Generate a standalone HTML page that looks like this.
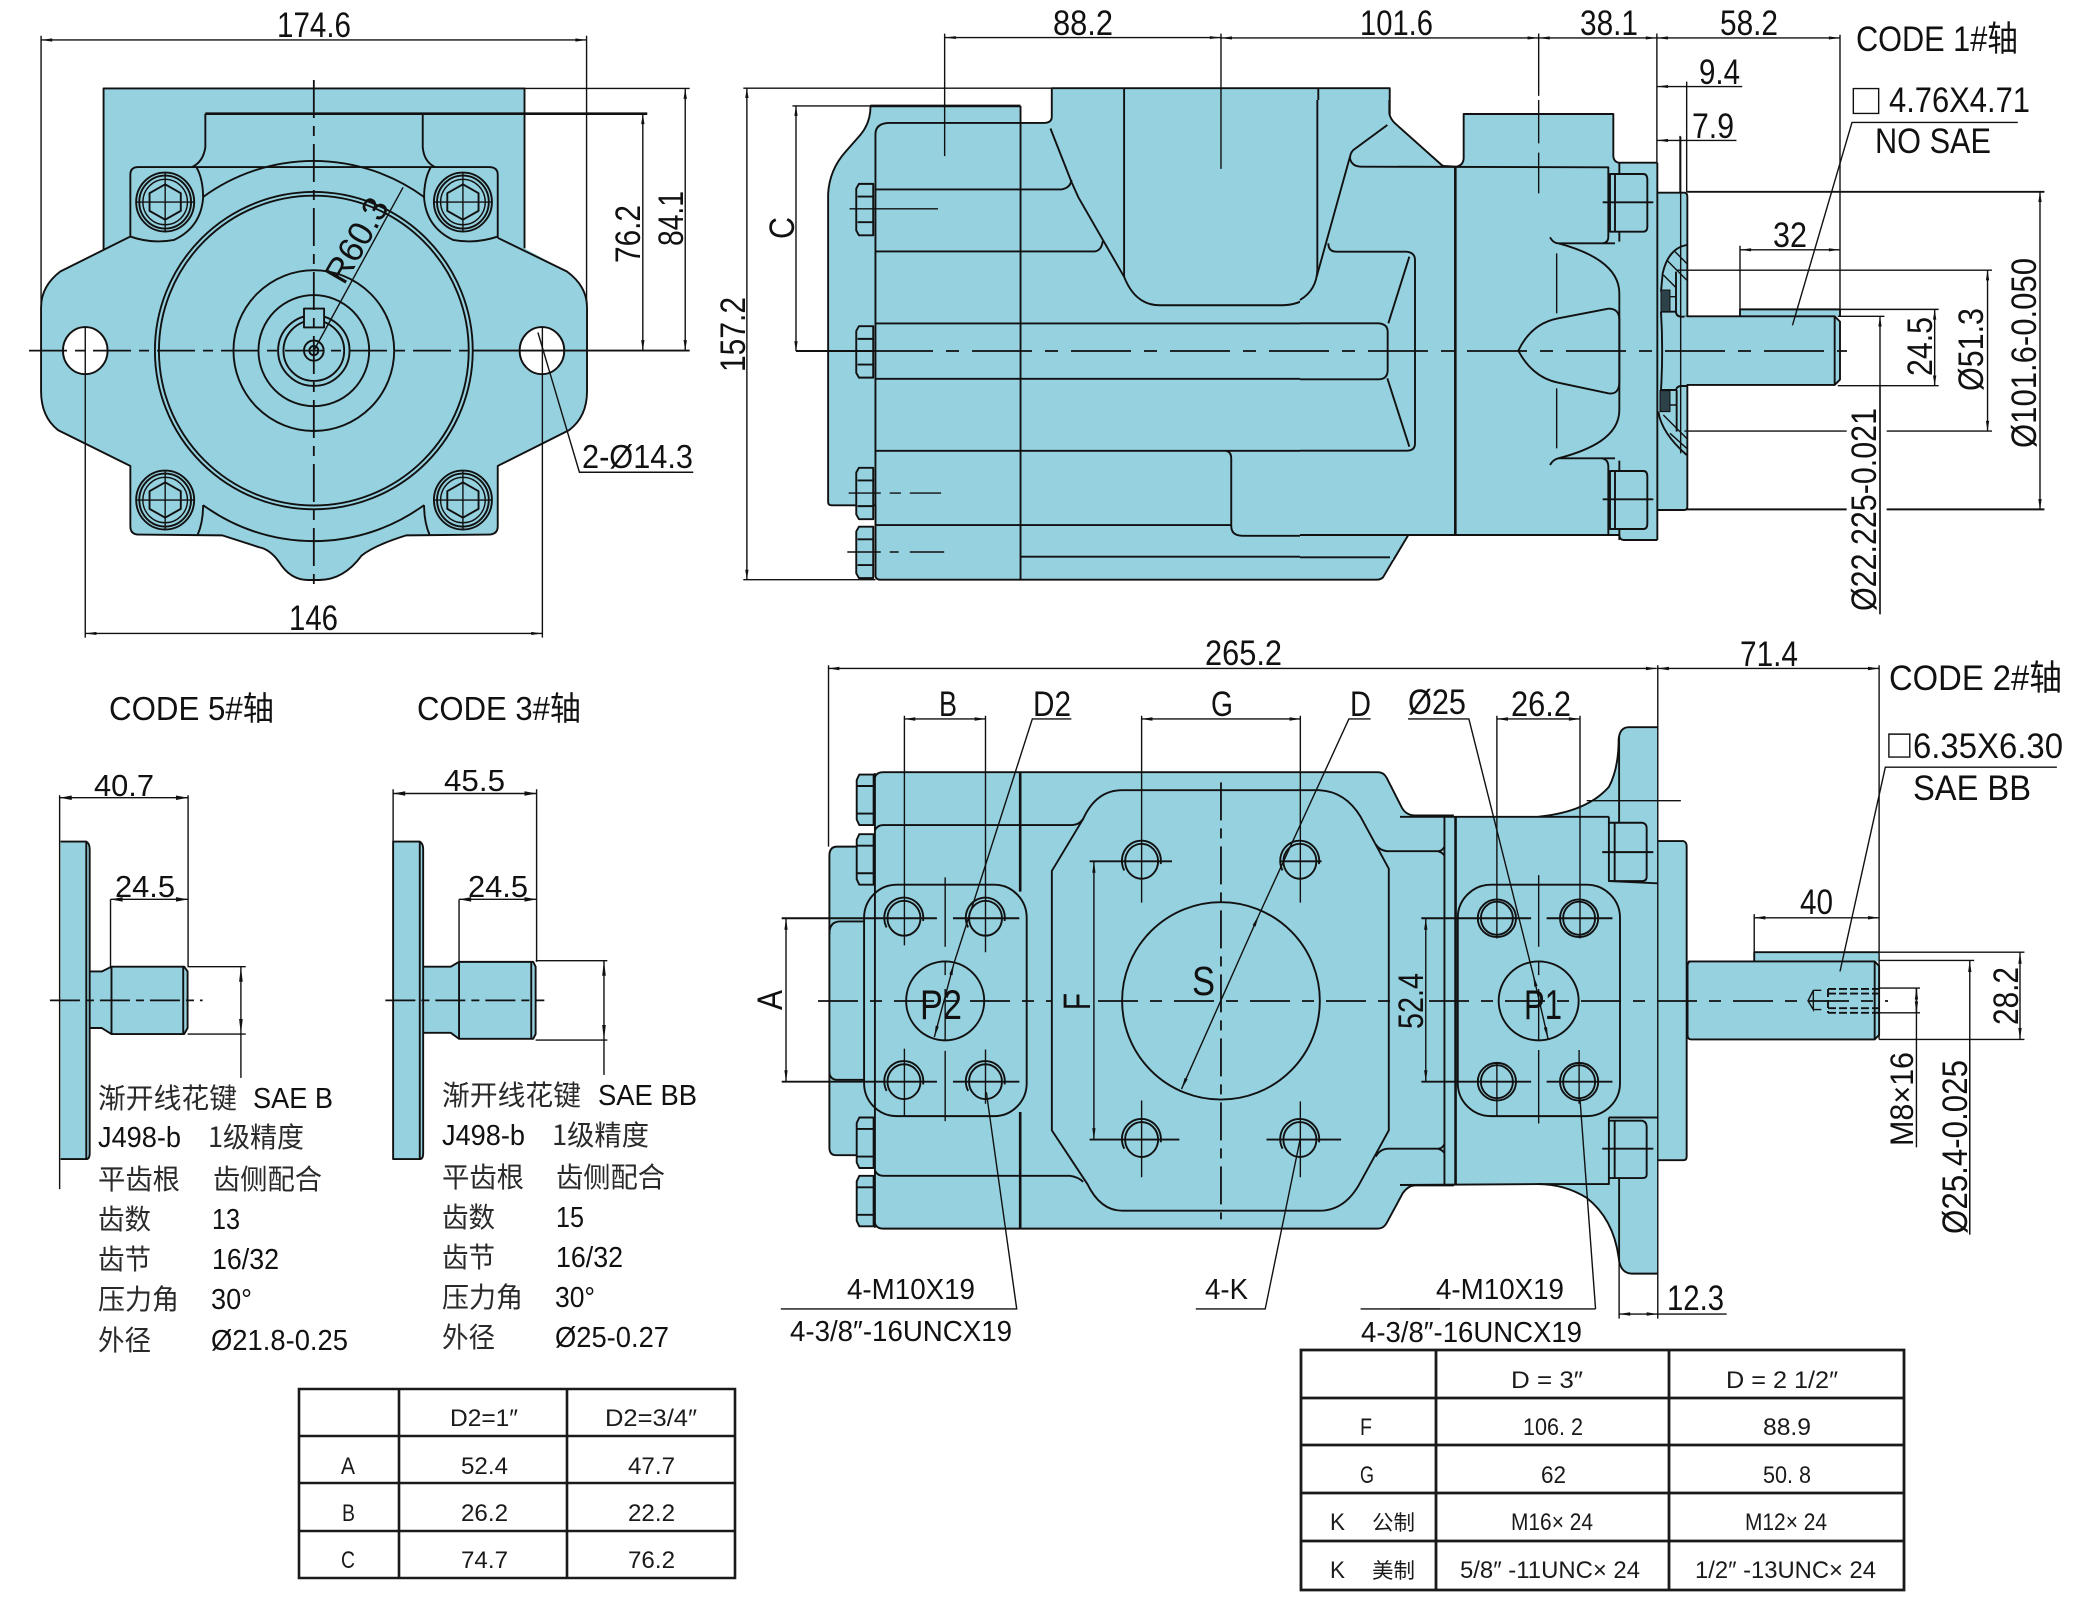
<!DOCTYPE html>
<html><head><meta charset="utf-8"><title>Pump diagram</title>
<style>
html,body{margin:0;padding:0;background:#fff;width:2097px;height:1603px;overflow:hidden}
svg{display:block}
path,line,ellipse,rect,polygon{vector-effect:non-scaling-stroke}
.f{fill:#96d1df;stroke:none}
.l{fill:none;stroke:#111;stroke-width:1.9;stroke-linejoin:round}
.h{fill:none;stroke:#111;stroke-width:2.6}
.n{fill:none;stroke:#111;stroke-width:1.4}
.d{fill:none;stroke:#111;stroke-width:1.4;marker-start:url(#a);marker-end:url(#a)}
.e{fill:none;stroke:#111;stroke-width:1.4;marker-end:url(#a)}
.c{fill:none;stroke:#111;stroke-width:1.8;stroke-dasharray:38,8,10,8}
.w{fill:#fff;stroke:#111;stroke-width:1.9}
text{font-family:"Liberation Sans","Noto Sans CJK SC",sans-serif;fill:#111;font-size:35px}
.s{font-size:29px}
.z{font-family:"Noto Sans CJK SC","Liberation Sans",sans-serif;font-size:28px;font-weight:400;fill:#2a2a2a}
.t{font-size:24px;fill:#1a1a1a}
.tz{font-family:"Noto Sans CJK SC","Liberation Sans",sans-serif;font-size:21px;fill:#1a1a1a}
</style></head><body>
<svg xmlns="http://www.w3.org/2000/svg" width="2097" height="1603" viewBox="0 0 2097 1603">
<defs>
<marker id="a" viewBox="0 0 10 4" refX="10" refY="2" markerWidth="26" markerHeight="10" orient="auto-start-reverse" markerUnits="userSpaceOnUse"><path d="M10,2 L0,.5 L0,3.5Z" fill="#111"/></marker>
<g id="bolt">
<ellipse class="l" rx="65" ry="70"/><ellipse class="l" rx="58" ry="63"/><ellipse class="n" rx="50" ry="54"/>
<path class="l" d="M0,-42 L35,-21 L35,21 L0,42 L-35,21 L-35,-21Z"/>
<path class="n" d="M-65,0 L65,0 M0,-70 L0,70"/>
</g>
<g id="hd2">
<path class="f" d="M356,0 L388,0 L388,130 L356,130 L350,118 L350,12Z"/>
<path class="l" d="M356,0 L388,0 L388,130 L356,130 L350,118 L350,12Z M353,32 L388,32 M353,97 L388,97"/>
</g>
<g id="hd5">
<path class="f" d="M229,0 L262,0 L262,110 L229,110 L223,98 L223,12Z"/>
<path class="l" d="M229,0 L262,0 L262,110 L229,110 L223,98 L223,12Z M225,25 L262,25 M225,85 L262,85"/>
</g>
<g id="port"><ellipse class="l" rx="38" ry="38"/><path class="l" d="M-40,20 A45,44 0 1 1 44,6"/></g>
<g id="port2"><ellipse class="l" rx="36" ry="36"/><ellipse class="l" rx="43" ry="41"/></g>
</defs>

<!-- VIEW 1 -->
<g transform="scale(.4464,.4209)">
<path class="f" d="M232,210 L1175,210 L1175,590 L1270,645 Q1315,680 1315,730 L1315,930 Q1315,990 1275,1022 L1115,1107 L1115,1250 Q1115,1270 1095,1270 L910,1272 Q840,1295 810,1320 Q770,1378 715,1378 L690,1378 Q650,1378 625,1335 Q605,1305 580,1300 L498,1272 L310,1270 Q292,1270 292,1250 L292,1107 L130,1022 Q92,990 92,930 L92,730 Q92,680 135,645 L232,595 Z"/>
<path class="l" d="M232,595 L232,210 L1175,210 L1175,590 M1115,565 L1270,645 Q1315,680 1315,730 L1315,930 Q1315,990 1275,1022 L1115,1107 L1115,1250 Q1115,1270 1095,1270 L910,1272 Q840,1295 810,1320 Q770,1378 715,1378 L690,1378 Q650,1378 625,1335 Q605,1305 580,1300 L498,1272 L310,1270 Q292,1270 292,1250 L292,1107 L130,1022 Q92,990 92,930 L92,730 Q92,680 135,645 L292,562"/>
<path class="h" d="M460,270 L1450,270"/>
<path class="l" d="M460,270 L460,350 Q455,385 430,397 M947,270 L947,350 Q950,385 975,397"/>
<path class="l" d="M292,562 L292,415 Q292,397 310,397 L1095,397 Q1115,397 1115,415 L1115,565"/>
<path class="l" d="M292,562 Q340,580 390,570 Q450,540 455,470 Q455,425 440,397 M1115,562 Q1065,580 1015,570 Q955,540 950,470 Q950,425 965,397"/>
<path class="l" d="M455,468 A420,446 0 0 1 950,468 M455,1200 A420,446 0 0 0 950,1200"/>
<path class="l" d="M455,1200 Q455,1240 443,1270 M950,1200 Q950,1240 962,1270"/>
<ellipse class="l" cx="703" cy="833" rx="356" ry="377"/>
<ellipse class="l" cx="703" cy="833" rx="347" ry="368"/>
<ellipse class="l" cx="703" cy="833" rx="180" ry="191"/>
<ellipse class="l" cx="703" cy="833" rx="124" ry="132"/>
<ellipse class="l" cx="703" cy="833" rx="80" ry="84"/>
<ellipse class="l" cx="703" cy="833" rx="68" ry="72"/>
<ellipse class="l" cx="703" cy="833" rx="22" ry="24"/>
<ellipse class="l" cx="703" cy="833" rx="10" ry="11"/>
<rect class="f" x="681" y="733" width="45" height="45"/><rect class="l" x="681" y="733" width="45" height="45"/>
<use href="#bolt" x="370" y="480"/><use href="#bolt" x="1037" y="480"/><use href="#bolt" x="370" y="1188"/><use href="#bolt" x="1037" y="1188"/>
<ellipse class="w" cx="191" cy="833" rx="50" ry="56"/>
<ellipse class="w" cx="1214" cy="833" rx="50" ry="56"/>
<path class="c" d="M65,833 L1060,833"/><path class="l" d="M1060,833 L1545,833"/>
<path class="c" d="M703,190 L703,1405"/>
<path class="n" d="M92,85 L92,720 M1314,85 L1314,720 M1175,210 L1545,210 M191,775 L191,1515 M1215,775 L1215,1515"/>
<path class="d" d="M92,95 L1314,95"/>
<path class="d" d="M1440,270 L1440,833"/>
<path class="d" d="M1535,210 L1535,833"/>
<path class="d" d="M191,1505 L1215,1505"/>
<path class="n" d="M1205,790 L1298,1122 L1553,1122"/>
<path class="n" d="M703,833 L903,445"/>
</g>
<text x="277" y="37" textLength="74" lengthAdjust="spacingAndGlyphs">174.6</text>
<text transform="translate(640,263) rotate(-90)" textLength="58" lengthAdjust="spacingAndGlyphs">76.2</text>
<text transform="translate(683,246) rotate(-90)" textLength="55" lengthAdjust="spacingAndGlyphs">84.1</text>
<text x="289" y="630" textLength="49" lengthAdjust="spacingAndGlyphs">146</text>
<text x="582" y="468" textLength="111" lengthAdjust="spacingAndGlyphs" class="s" style="font-size:33px">2-Ø14.3</text>
<text transform="translate(344,286) rotate(-60)" textLength="92" lengthAdjust="spacingAndGlyphs">R60.3</text>

<!-- VIEW 2 left -->
<g transform="translate(700,0) scale(.44643,.39541)">
<path class="f" d="M382,268 L718,268 L718,311 L770,311 Q788,311 788,295 L788,223 L1545,223 L1545,290 L1545,1353 L1586,1353 L1530,1460 Q1525,1466 1515,1466 L405,1466 Q393,1466 393,1455 L393,1278 L295,1278 Q287,1278 287,1270 L287,490 Q290,430 325,385 L360,340 Q382,310 382,268Z"/>
<path class="l" d="M1586,1353 L1530,1460 Q1525,1466 1515,1466 L405,1466 Q393,1466 393,1455 L393,1278 L295,1278 Q287,1278 287,1270 L287,490 Q290,430 325,385 L360,340 Q382,310 382,268 L718,268 M718,311 L770,311 Q788,311 788,295 L788,223 L1545,223 L1545,290"/>
<path class="h" d="M382,268 L718,268"/>
<path class="l" d="M393,1455 L393,340 Q393,311 425,311 L718,311 M718,268 L718,1466"/>
<path class="l" d="M393,479 L810,479 Q830,475 832,455 M393,636 L885,636 Q900,632 902,610"/>
<path class="l" d="M785,325 L832,460 L848,500 L950,700 Q975,772 1030,772 L1305,772 Q1375,770 1385,695"/>
<path class="l" d="M950,223 L950,700 M1385,223 L1385,700"/>
<path class="l" d="M393,818 L1344,818 M393,958 L1344,958"/>
<path class="l" d="M393,1140 L1344,1140 M1175,1140 Q1190,1140 1190,1160 L1190,1330 Q1190,1355 1215,1355 L1344,1355 M393,1328 L1190,1328 M718,1408 L1344,1408"/>
<use href="#hd2" y="465"/><use href="#hd2" y="825"/><use href="#hd2" y="1183"/><use href="#hd2" y="1332"/>
<path class="n" d="M335,528 L533,528 M333,1247 L405,1247 M425,1247 L450,1247 M470,1247 L540,1247 M330,1396 L405,1396 M425,1396 L445,1396 M470,1396 L547,1396"/>
<path class="n" d="M548,85 L548,395 M1167,85 L1167,427 M97,223 L788,223 M97,1466 L393,1466 M207,268 L382,268"/>
<path class="d" d="M105,223 L105,1466"/>
<path class="d" d="M215,268 L215,888"/>
<path class="d" d="M548,95 L1167,95"/>
</g>
<!-- VIEW 2 middle -->
<g transform="translate(1300,100) scale(.33333)">
<path class="f" d="M0,0 L268,0 L268,40 Q270,55 285,70 L425,195 L430,198 L470,200 Q490,195 491,175 L491,42 L940,42 L940,170 Q942,185 955,188 L1072,188 L1072,278 L1155,278 Q1162,280 1162,290 L1162,1220 Q1162,1228 1155,1230 L1072,1230 L1072,1320 L970,1320 Q958,1318 958,1305 L325,1305 L280,1380 L0,1380Z"/>
<path class="l" d="M268,0 L268,40 Q270,55 285,70 L425,195 L430,198 L470,200 Q490,195 491,175 L491,42 L940,42 L940,170 Q942,185 955,188 L1072,188 M1072,278 L1155,278 Q1162,280 1162,290 L1162,1220 Q1162,1228 1155,1230 L1072,1230 M1072,1320 L970,1320 Q958,1318 958,1305 L0,1305 M340,1305 L325,1305 L280,1380 M0,1372 L270,1372"/>
<path class="l" d="M1072,188 L1072,1320"/>
<path class="l" d="M52,0 L52,510 Q50,570 0,600"/>
<path class="l" d="M262,75 L160,150 Q150,160 150,175 Q155,200 185,200 L925,202 L925,410 Q925,430 905,430 L775,430 Q760,430 750,412 M775,430 L945,430"/>
<path class="l" d="M150,170 L50,530 M85,430 Q85,455 110,455 L320,455 Q345,458 345,480 L345,1030 Q345,1052 320,1052 L0,1052"/>
<path class="l" d="M328,470 L265,670 M262,835 L328,1040"/>
<path class="l" d="M0,670 L235,670 Q263,672 263,695 L263,810 Q263,838 235,838 L0,838"/>
<path class="h" d="M466,200 L466,1305"/>
<path class="l" d="M775,430 C870,455 958,500 958,580 L958,930 C958,1010 870,1050 775,1075"/>
<path class="l" d="M750,1095 Q760,1078 775,1075 L945,1075 M905,1075 Q925,1078 925,1100 L925,1305"/>
<path class="l" d="M655,752 C680,700 720,665 775,655 L925,626 Q958,625 958,660 L958,845 Q958,885 925,880 L775,848 C720,838 680,800 655,752Z"/>
<path class="n" d="M770,460 L770,640 M770,865 L770,1045"/>
<path class="l" d="M930,222 L1030,222 Q1042,222 1042,240 L1042,380 Q1042,395 1030,395 L930,395 Z M945,222 L945,395 M958,188 L958,222 M958,395 L958,425"/>
<path class="l" d="M930,1113 L1030,1113 Q1042,1113 1042,1130 L1042,1270 Q1042,1287 1030,1287 L930,1287 Z M945,1113 L945,1287 M958,1082 L958,1113 M958,1287 L958,1320"/>
<path class="l" d="M908,307 L1060,307 M908,1198 L1060,1198"/>
<path class="l" d="M1160,435 Q1105,445 1088,520 L1083,575 M1083,635 L1128,635 Q1128,650 1145,650 L1162,650 M1083,635 Q1090,750 1083,870 L1128,870 Q1130,858 1145,858 L1162,858 M1128,515 L1128,635 M1130,870 L1130,995 M1075,935 Q1085,1000 1160,1065"/>
<rect x="1083" y="570" width="27" height="65" fill="#2c4148" stroke="#111"/>
<rect x="1080" y="872" width="30" height="63" fill="#2c4148" stroke="#111"/>
<path class="n" d="M1110,590 L1128,590 M1110,915 L1130,915 M1125,455 L1160,490 M1100,480 L1160,540 M1090,525 L1128,563 M1090,945 L1160,1015 M1110,1000 L1160,1045 M1142,110 L1142,1060"/>
<path class="n" d="M716,0 L716,130 M716,158 L716,280"/>
</g>
<!-- VIEW 2 right -->
<g transform="translate(1400,0) scale(.44444,.40816)">
<path class="f" d="M765,775 L765,758 L990,758 L990,775Z"/>
<path class="f" d="M640,775 L978,775 L990,788 L990,930 L978,943 L640,943Z"/>
<path class="l" d="M645,775 L978,775 L990,788 L990,930 L978,943 L645,943 M978,775 L978,943 M765,775 L765,758 L990,758 L990,775"/>
<path class="n" d="M312,82 L312,235 M578,82 L578,400 M990,85 L990,775 M645,200 L645,470 M630,333 L630,470 M765,602 L765,758"/>
<path class="l" d="M645,470 L1450,470 M645,1248 L1005,1248 M1095,1248 L1450,1248"/>
<path class="n" d="M622,662 L1332,662 M640,1056 L1005,1056 M1095,1056 L1332,1056 M990,758 L1212,758 M985,945 L1212,945 M985,775 L1090,775"/>
<path class="d" d="M1440,470 L1440,1248"/>
<path class="d" d="M1322,662 L1322,1056"/>
<path class="d" d="M1203,758 L1203,945"/>
<path class="e" d="M1080,1505 L1080,775"/>
<path class="n" d="M1080,1505 L1080,945"/>
<path class="d" d="M312,93 L578,93"/>
<path class="d" d="M578,93 L990,93"/>
<path class="d" d="M-403,93 L312,93"/>
<path class="d" d="M765,612 L990,612"/>
<path class="e" d="M645,212 L578,212"/><path class="n" d="M645,212 L770,212"/>
<path class="e" d="M630,344 L578,344"/><path class="n" d="M630,344 L757,344"/>
<path class="n" d="M1390,300 L1017,300 L883,797"/>
<rect class="n" x="1020" y="217" width="57" height="61"/>
</g>
<path class="c" style="stroke-dasharray:60,13,13,13" d="M873,351 L1847,351"/>
<path class="l" d="M796,351 L873,351"/>
<text x="1053" y="35" textLength="60" lengthAdjust="spacingAndGlyphs">88.2</text>
<text x="1360" y="35" textLength="73" lengthAdjust="spacingAndGlyphs">101.6</text>
<text x="1580" y="35" textLength="58" lengthAdjust="spacingAndGlyphs">38.1</text>
<text x="1720" y="35" textLength="58" lengthAdjust="spacingAndGlyphs">58.2</text>
<text x="1699" y="84" textLength="41" lengthAdjust="spacingAndGlyphs">9.4</text>
<text x="1692" y="138" textLength="42" lengthAdjust="spacingAndGlyphs">7.9</text>
<text x="1856" y="51" textLength="162" lengthAdjust="spacingAndGlyphs">CODE 1#轴</text>
<text x="1889" y="112" textLength="141" lengthAdjust="spacingAndGlyphs">4.76X4.71</text>
<text x="1875" y="153" textLength="116" lengthAdjust="spacingAndGlyphs">NO SAE</text>
<text x="1773" y="247" textLength="34" lengthAdjust="spacingAndGlyphs">32</text>
<text transform="translate(1932,376) rotate(-90)" textLength="59" lengthAdjust="spacingAndGlyphs">24.5</text>
<text transform="translate(1983,391) rotate(-90)" textLength="83" lengthAdjust="spacingAndGlyphs">Ø51.3</text>
<text transform="translate(2036,448) rotate(-90)" textLength="190" lengthAdjust="spacingAndGlyphs">Ø101.6-0.050</text>
<text transform="translate(1876,611) rotate(-90)" textLength="203" lengthAdjust="spacingAndGlyphs">Ø22.225-0.021</text>
<text transform="translate(794,239) rotate(-90)" textLength="22" lengthAdjust="spacingAndGlyphs">C</text>
<text transform="translate(745,372) rotate(-90)" textLength="75" lengthAdjust="spacingAndGlyphs">157.2</text>

<!-- VIEW 3 left -->
<g transform="translate(760,640) scale(.43365,.45914)">
<path class="f" d="M160,470 Q160,450 178,450 L265,450 L265,300 Q268,288 285,288 L1425,288 Q1438,288 1445,300 L1480,365 Q1490,382 1510,382 L1600,382 L1600,1188 L1510,1188 Q1495,1188 1482,1205 L1445,1270 Q1438,1282 1425,1282 L285,1282 Q268,1282 265,1270 L265,1122 L175,1122 Q160,1122 160,1105 Z"/>
<path class="l" d="M225,450 L178,450 Q160,450 160,470 L160,1105 Q160,1122 175,1122 L225,1122 M265,300 Q268,288 285,288 L1425,288 Q1438,288 1445,300 L1480,365 Q1490,382 1510,382 L1600,382 M1600,1188 L1510,1188 Q1495,1188 1482,1205 L1445,1270 Q1438,1282 1425,1282 L285,1282 Q268,1282 265,1270 M265,290 L265,1280"/>
<path class="h" d="M600,288 L600,548 M600,1028 L600,1282"/>
<path class="l" d="M265,415 Q270,403 285,403 L720,403 Q735,403 745,390 M265,1155 Q270,1167 285,1167 L715,1167 Q735,1170 745,1180"/>
<path class="l" d="M160,640 Q160,613 185,613 L240,613 M160,940 Q160,958 180,958 L240,958"/>
<path class="l" d="M315,533 L540,533 A75,72 0 0 1 615,605 L615,965 A75,72 0 0 1 540,1037 L315,1037 A75,72 0 0 1 240,965 L240,605 A75,72 0 0 1 315,533Z"/>
<path class="l" d="M835,327 L1290,327 Q1350,330 1385,385 L1450,498 L1450,1068 L1385,1180 Q1350,1243 1290,1243 L835,1243 Q785,1243 755,1185 L673,1068 L673,503 L745,390 Q775,327 835,327Z"/>
<path class="l" d="M1420,445 Q1430,460 1450,460 L1600,460 M1420,1125 Q1430,1108 1450,1108 L1600,1108"/>
<ellipse class="l" cx="1063" cy="786" rx="228" ry="215"/>
<ellipse class="l" cx="427" cy="786" rx="90" ry="86"/>
<use href="#hd5" y="293"/><use href="#hd5" y="423"/><use href="#hd5" y="1040"/><use href="#hd5" y="1167"/>
<use href="#port" x="332" y="606"/><use href="#port" x="520" y="606"/><use href="#port" x="332" y="962"/><use href="#port" x="520" y="962"/>
<use href="#port" x="880" y="482"/><use href="#port" x="1245" y="482"/><use href="#port" x="880" y="1088"/><use href="#port" x="1245" y="1088"/>
<path class="n" d="M333,165 L333,665 M520,165 L520,680 M333,890 L333,1037 M520,892 L520,1010"/>
<path class="l" d="M50,606 L408,606 M445,606 L598,606 M50,962 L408,962 M445,962 L598,962"/>
<path class="n" d="M427,517 L427,668 M427,700 L427,730 M427,760 L427,870 M427,895 L427,1048"/>
<path class="n" d="M880,165 L880,572 M1246,165 L1246,572 M880,1003 L880,1170 M1246,1005 L1246,1170"/>
<path class="l" d="M760,482 L950,482 M1200,482 L1295,482 M760,1088 L967,1088 M1168,1088 L1340,1088"/>
<path class="c" d="M1063,310 L1063,1262"/>
<path class="n" d="M158,55 L158,450"/>
<path class="d" d="M158,62 L2068,62"/>
<path class="d" d="M770,482 L770,1088"/>
<path class="d" d="M60,606 L60,962"/>
<path class="d" d="M333,172 L520,172"/>
<path class="d" d="M880,172 L1246,172"/>
<path class="n" d="M718,172 L628,172 L447,705"/>
<path class="d" d="M447,705 L402,865"/>
<path class="n" d="M1408,172 L1358,172 L1150,600"/>
<path class="d" d="M1150,600 L972,978"/>
<path class="n" d="M48,1457 L592,1457 L522,985"/>
<path class="n" d="M1005,1457 L1165,1457 L1245,1090"/>
<path class="n" d="M1385,1457 L1568,1457"/>
</g>
<!-- VIEW 3 right -->
<g transform="translate(1400,640) scale(.44444,.45914)">
<path class="f" d="M0,385 L310,385 Q420,375 470,320 Q492,280 492,215 Q495,190 515,190 L580,190 L580,438 L638,438 Q645,440 645,450 L645,1125 Q645,1133 638,1133 L580,1133 L580,1380 L520,1380 Q495,1378 492,1345 Q480,1260 420,1215 Q370,1185 310,1185 L0,1187 Z"/>
<path class="f" d="M797,680 L1078,680 L1078,700 L797,700Z"/>
<path class="f" d="M650,700 L1068,700 L1078,710 L1078,860 L1068,870 L655,870 Q647,870 647,860 L647,710 Q647,700 655,700Z"/>
<path class="l" d="M0,385 L470,385 M310,385 Q420,375 470,320 Q492,280 492,215 Q495,190 515,190 L580,190 M580,438 L638,438 Q645,440 645,450 L645,1125 Q645,1133 638,1133 L580,1133 M580,1380 L520,1380 Q495,1378 492,1345 Q480,1260 420,1215 Q370,1185 310,1185 L0,1187"/>
<path class="l" d="M650,700 L1068,700 L1078,710 L1078,860 L1068,870 L655,870 Q647,870 647,860 L647,710 Q647,700 655,700Z M1068,700 L1068,870 M797,700 L797,680 L1078,680"/>
<path class="l" d="M100,385 L100,1187"/>
<path class="h" d="M125,385 L125,1187"/>
<path class="l" d="M0,460 L85,460 Q95,460 100,450 M85,460 Q95,462 100,470 M0,1108 L85,1108 Q95,1108 100,1098 M85,1108 Q95,1110 100,1118"/>
<path class="l" d="M470,385 L470,525 L580,530 M470,1040 L580,1040 M470,1040 L470,1185 L310,1185"/>
<path class="l" d="M470,398 L545,398 Q555,400 555,410 L555,515 Q555,525 545,525 L470,525 M483,398 L483,525 M493,210 L493,398 M470,1047 L545,1047 Q555,1050 555,1060 L555,1165 Q555,1172 545,1172 L470,1172 M483,1047 L483,1172 M493,1172 L493,1350"/>
<path class="l" d="M455,462 L570,462 M455,1108 L570,1108"/>
<path class="l" d="M205,533 L420,533 A75,72 0 0 1 495,605 L495,965 A75,72 0 0 1 420,1037 L205,1037 A75,72 0 0 1 130,965 L130,605 A75,72 0 0 1 205,533Z"/>
<ellipse class="l" cx="312" cy="786" rx="90" ry="86"/>
<use href="#port2" x="218" y="606"/><use href="#port2" x="403" y="606"/><use href="#port2" x="218" y="962"/><use href="#port2" x="403" y="962"/>
<path class="n" d="M218,165 L218,650 M405,165 L405,650 M218,920 L218,1037 M403,893 L403,1010"/>
<path class="l" d="M48,606 L295,606 M330,606 L478,606 M48,962 L295,962 M330,962 L478,962"/>
<path class="n" d="M312,512 L312,668 M312,700 L312,730 M312,760 L312,870 M312,893 L312,1053"/>
<path class="n" d="M420,350 L632,350 M580,55 L580,1478 M493,1350 L493,1478 M1078,55 L1078,870 M797,597 L797,680"/>
<path class="d" d="M580,62 L1078,62"/>
<path class="d" d="M218,172 L405,172"/>
<path class="d" d="M58,606 L58,962"/>
<path class="d" d="M797,605 L1078,605"/>
<path class="d" d="M493,1468 L580,1468"/>
<path class="n" d="M580,1468 L735,1468"/>
<path class="n" d="M18,172 L155,172 L300,730"/>
<path class="d" d="M300,730 L333,868"/>
<path class="n" d="M440,1457 L0,1457 M440,1457 L405,1000"/>
<path class="n" d="M1478,277 L1092,277 L990,722"/>
<rect class="n" x="1100" y="205" width="47" height="50"/>
<path class="n" d="M1078,680 L1405,680 M1078,870 L1405,870 M1078,698 L1292,698 M1078,758 L1170,758 M1078,812 L1170,812"/>
<path class="d" d="M1395,680 L1395,870"/>
<path class="e" d="M1282,1295 L1282,698"/>
<path class="n" d="M1282,1295 L1282,870"/>
<path class="n" d="M1162,758 L1162,1105"/>
<path class="d" d="M1162,758 L1162,812"/>
<path class="n" d="M930,763 L918,786 L930,805 Z M930,763 L948,763 M930,805 L948,805"/>
<path class="l" style="stroke-dasharray:8,3" d="M963,760 L1078,760 M963,770 L1078,770 M963,802 L1078,802 M963,812 L1078,812 M963,760 L963,812"/>
</g>
<path class="c" style="stroke-dasharray:40,12,12,12" d="M818,1001 L1052,1001 M1098,1001 L1395,1001 M1429,1001 L1888,1001"/>
<text x="1205" y="665" textLength="77" lengthAdjust="spacingAndGlyphs">265.2</text>
<text x="1740" y="666" textLength="58" lengthAdjust="spacingAndGlyphs">71.4</text>
<text x="1889" y="690" textLength="173" lengthAdjust="spacingAndGlyphs">CODE 2#轴</text>
<text x="1913" y="758" textLength="150" lengthAdjust="spacingAndGlyphs">6.35X6.30</text>
<text x="1913" y="800" textLength="118" lengthAdjust="spacingAndGlyphs">SAE BB</text>
<text x="1800" y="914" textLength="33" lengthAdjust="spacingAndGlyphs">40</text>
<text transform="translate(2018,1025) rotate(-90)" textLength="58" lengthAdjust="spacingAndGlyphs">28.2</text>
<text transform="translate(1967,1234) rotate(-90)" textLength="174" lengthAdjust="spacingAndGlyphs">Ø25.4-0.025</text>
<text transform="translate(1913,1146) rotate(-90)" textLength="94" lengthAdjust="spacingAndGlyphs" style="font-size:32px">M8×16</text>
<text x="1667" y="1310" textLength="57" lengthAdjust="spacingAndGlyphs">12.3</text>
<text x="1436" y="1299" textLength="128" lengthAdjust="spacingAndGlyphs" class="s">4-M10X19</text>
<text x="1361" y="1342" textLength="221" lengthAdjust="spacingAndGlyphs" class="s">4-3/8″-16UNCX19</text>
<text x="847" y="1299" textLength="128" lengthAdjust="spacingAndGlyphs" class="s">4-M10X19</text>
<text x="790" y="1341" textLength="222" lengthAdjust="spacingAndGlyphs" class="s">4-3/8″-16UNCX19</text>
<text x="1205" y="1299" textLength="43" lengthAdjust="spacingAndGlyphs" class="s">4-K</text>
<text x="1408" y="714" textLength="58" lengthAdjust="spacingAndGlyphs">Ø25</text>
<text x="1511" y="716" textLength="60" lengthAdjust="spacingAndGlyphs">26.2</text>
<text x="1350" y="716" textLength="21" lengthAdjust="spacingAndGlyphs">D</text>
<text x="1211" y="716" textLength="22" lengthAdjust="spacingAndGlyphs">G</text>
<text x="1033" y="716" textLength="38" lengthAdjust="spacingAndGlyphs">D2</text>
<text x="939" y="716" textLength="18" lengthAdjust="spacingAndGlyphs">B</text>
<text transform="translate(782,1010) rotate(-90)" textLength="20" lengthAdjust="spacingAndGlyphs">A</text>
<text transform="translate(1090,1010) rotate(-90)" textLength="17" lengthAdjust="spacingAndGlyphs" style="font-size:38px">F</text>
<text transform="translate(1423,1029) rotate(-90)" textLength="56" lengthAdjust="spacingAndGlyphs">52.4</text>
<text x="1192" y="995" textLength="23" lengthAdjust="spacingAndGlyphs" style="font-size:41px">S</text>
<text x="920" y="1019" textLength="42" lengthAdjust="spacingAndGlyphs" style="font-size:42px">P2</text>
<text x="1524" y="1019" textLength="38" lengthAdjust="spacingAndGlyphs" style="font-size:42px">P1</text>

<!-- shaft details -->
<g transform="translate(0,660) scale(.48473,.60132)">
<path class="f" d="M125,302 L178,302 Q185,305 185,315 L185,820 Q185,830 178,830 L125,830Z"/>
<path class="f" d="M185,518 L210,518 L230,510 L380,510 L387,518 L387,612 L380,622 L230,622 L210,612 L185,612Z"/>
<path class="l" d="M125,302 L178,302 Q185,305 185,315 L185,820 Q185,830 178,830 L125,830 M178,302 L178,830 M185,518 L210,518 L230,510 L380,510 L387,518 L387,612 L380,622 L230,622 L210,612 L185,612 M230,510 L230,622 M378,510 L378,622"/>
<path class="n" d="M123,225 L123,880 M388,225 L388,510 M228,398 L228,510 M387,510 L507,510 M387,622 L507,622"/>
<path class="d" d="M123,229 L388,229"/><path class="d" d="M228,398 L388,398"/>
<path class="d" d="M497,510 L497,622"/><path class="n" d="M497,622 L497,695"/>
<path class="c" style="stroke-dasharray:30,6,8,6" d="M103,566 L418,566"/>
<path class="f" d="M811,302 L866,302 Q873,305 873,315 L873,820 Q873,830 866,830 L811,830Z"/>
<path class="f" d="M873,510 L930,510 L947,502 L1100,502 L1105,510 L1105,622 L1100,630 L947,630 L930,620 L873,620Z"/>
<path class="l" d="M811,302 L866,302 Q873,305 873,315 L873,820 Q873,830 866,830 L811,830 Z M866,302 L866,830 M873,510 L930,510 L947,502 L1100,502 L1105,510 L1105,622 L1100,630 L947,630 L930,620 L873,620 M947,502 L947,630 M1096,502 L1096,630"/>
<path class="n" d="M811,215 L811,302 M1107,215 L1107,502 M947,398 L947,502 M1105,500 L1253,500 M1105,632 L1253,632"/>
<path class="d" d="M811,222 L1107,222"/><path class="d" d="M947,398 L1107,398"/>
<path class="d" d="M1246,500 L1246,632"/><path class="n" d="M1246,632 L1246,690"/>
<path class="c" style="stroke-dasharray:30,6,8,6" d="M795,566 L1123,566"/>
</g>
<text x="109" y="720" textLength="165" lengthAdjust="spacingAndGlyphs" class="s" style="font-size:33px">CODE 5#轴</text>
<text x="417" y="720" textLength="164" lengthAdjust="spacingAndGlyphs" class="s" style="font-size:33px">CODE 3#轴</text>
<text x="94" y="796" textLength="60" lengthAdjust="spacingAndGlyphs" class="s" style="font-size:31px">40.7</text>
<text x="444" y="791" textLength="61" lengthAdjust="spacingAndGlyphs" class="s" style="font-size:31px">45.5</text>
<text x="115" y="897" textLength="60" lengthAdjust="spacingAndGlyphs" class="s" style="font-size:31px">24.5</text>
<text x="468" y="897" textLength="60" lengthAdjust="spacingAndGlyphs" class="s" style="font-size:31px">24.5</text>

<text class="z" x="98" y="1108" textLength="139" lengthAdjust="spacingAndGlyphs">渐开线花键</text>
<text class="s" x="253" y="1108" textLength="80" lengthAdjust="spacingAndGlyphs">SAE B</text>
<text class="s" x="98" y="1147" textLength="83" lengthAdjust="spacingAndGlyphs">J498-b</text>
<text class="z" x="208" y="1147" textLength="96" lengthAdjust="spacingAndGlyphs">1级精度</text>
<text class="z" x="98" y="1189" textLength="82" lengthAdjust="spacingAndGlyphs">平齿根</text>
<text class="z" x="213" y="1189" textLength="109" lengthAdjust="spacingAndGlyphs">齿侧配合</text>
<text class="z" x="98" y="1229" textLength="53" lengthAdjust="spacingAndGlyphs">齿数</text>
<text class="s" x="212" y="1229" textLength="28" lengthAdjust="spacingAndGlyphs">13</text>
<text class="z" x="98" y="1269" textLength="53" lengthAdjust="spacingAndGlyphs">齿节</text>
<text class="s" x="212" y="1269" textLength="67" lengthAdjust="spacingAndGlyphs">16/32</text>
<text class="z" x="98" y="1309" textLength="81" lengthAdjust="spacingAndGlyphs">压力角</text>
<text class="s" x="211" y="1309" textLength="41" lengthAdjust="spacingAndGlyphs">30°</text>
<text class="z" x="98" y="1350" textLength="53" lengthAdjust="spacingAndGlyphs">外径</text>
<text class="s" x="211" y="1350" textLength="137" lengthAdjust="spacingAndGlyphs">Ø21.8-0.25</text>

<text class="z" x="442" y="1105" textLength="139" lengthAdjust="spacingAndGlyphs">渐开线花键</text>
<text class="s" x="598" y="1105" textLength="99" lengthAdjust="spacingAndGlyphs">SAE BB</text>
<text class="s" x="442" y="1145" textLength="83" lengthAdjust="spacingAndGlyphs">J498-b</text>
<text class="z" x="552" y="1145" textLength="97" lengthAdjust="spacingAndGlyphs">1级精度</text>
<text class="z" x="442" y="1187" textLength="82" lengthAdjust="spacingAndGlyphs">平齿根</text>
<text class="z" x="556" y="1187" textLength="109" lengthAdjust="spacingAndGlyphs">齿侧配合</text>
<text class="z" x="442" y="1227" textLength="53" lengthAdjust="spacingAndGlyphs">齿数</text>
<text class="s" x="556" y="1227" textLength="28" lengthAdjust="spacingAndGlyphs">15</text>
<text class="z" x="442" y="1267" textLength="53" lengthAdjust="spacingAndGlyphs">齿节</text>
<text class="s" x="556" y="1267" textLength="67" lengthAdjust="spacingAndGlyphs">16/32</text>
<text class="z" x="442" y="1307" textLength="81" lengthAdjust="spacingAndGlyphs">压力角</text>
<text class="s" x="555" y="1307" textLength="40" lengthAdjust="spacingAndGlyphs">30°</text>
<text class="z" x="442" y="1347" textLength="53" lengthAdjust="spacingAndGlyphs">外径</text>
<text class="s" x="555" y="1347" textLength="114" lengthAdjust="spacingAndGlyphs">Ø25-0.27</text>

<!-- table 1 -->
<path fill="none" stroke="#1a1a1a" stroke-width="2.6" d="M299,1389 L735,1389 L735,1578 L299,1578Z M399,1389 L399,1578 M567,1389 L567,1578 M299,1436 L735,1436 M299,1483 L735,1483 M299,1531 L735,1531"/>
<text class="t" x="450" y="1426" textLength="68" lengthAdjust="spacingAndGlyphs">D2=1″</text>
<text class="t" x="605" y="1426" textLength="92" lengthAdjust="spacingAndGlyphs">D2=3/4″</text>
<text class="t" x="341" y="1474" textLength="14" lengthAdjust="spacingAndGlyphs">A</text>
<text class="t" x="461" y="1474" textLength="47" lengthAdjust="spacingAndGlyphs">52.4</text>
<text class="t" x="628" y="1474" textLength="47" lengthAdjust="spacingAndGlyphs">47.7</text>
<text class="t" x="342" y="1521" textLength="13" lengthAdjust="spacingAndGlyphs">B</text>
<text class="t" x="461" y="1521" textLength="47" lengthAdjust="spacingAndGlyphs">26.2</text>
<text class="t" x="628" y="1521" textLength="47" lengthAdjust="spacingAndGlyphs">22.2</text>
<text class="t" x="341" y="1568" textLength="14" lengthAdjust="spacingAndGlyphs">C</text>
<text class="t" x="461" y="1568" textLength="47" lengthAdjust="spacingAndGlyphs">74.7</text>
<text class="t" x="628" y="1568" textLength="47" lengthAdjust="spacingAndGlyphs">76.2</text>

<!-- table 2 -->
<path fill="none" stroke="#1a1a1a" stroke-width="2.8" d="M1301,1350 L1904,1350 L1904,1590 L1301,1590Z M1436,1350 L1436,1590 M1669,1350 L1669,1590 M1301,1398 L1904,1398 M1301,1445 L1904,1445 M1301,1493 L1904,1493 M1301,1541 L1904,1541"/>
<text class="t" x="1511" y="1388" textLength="72" lengthAdjust="spacingAndGlyphs">D = 3″</text>
<text class="t" x="1726" y="1388" textLength="112" lengthAdjust="spacingAndGlyphs">D = 2 1/2″</text>
<text class="t" x="1360" y="1435" textLength="12" lengthAdjust="spacingAndGlyphs">F</text>
<text class="t" x="1523" y="1435" textLength="60" lengthAdjust="spacingAndGlyphs">106. 2</text>
<text class="t" x="1763" y="1435" textLength="48" lengthAdjust="spacingAndGlyphs">88.9</text>
<text class="t" x="1360" y="1483" textLength="14" lengthAdjust="spacingAndGlyphs">G</text>
<text class="t" x="1541" y="1483" textLength="25" lengthAdjust="spacingAndGlyphs">62</text>
<text class="t" x="1763" y="1483" textLength="48" lengthAdjust="spacingAndGlyphs">50. 8</text>
<text class="t" x="1330" y="1530" textLength="15" lengthAdjust="spacingAndGlyphs">K</text>
<text class="tz" x="1372" y="1530" textLength="43" lengthAdjust="spacingAndGlyphs">公制</text>
<text class="t" x="1511" y="1530" textLength="82" lengthAdjust="spacingAndGlyphs">M16× 24</text>
<text class="t" x="1745" y="1530" textLength="82" lengthAdjust="spacingAndGlyphs">M12× 24</text>
<text class="t" x="1330" y="1578" textLength="15" lengthAdjust="spacingAndGlyphs">K</text>
<text class="tz" x="1372" y="1578" textLength="43" lengthAdjust="spacingAndGlyphs">美制</text>
<text class="t" x="1460" y="1578" textLength="180" lengthAdjust="spacingAndGlyphs">5/8″ -11UNC× 24</text>
<text class="t" x="1695" y="1578" textLength="181" lengthAdjust="spacingAndGlyphs">1/2″ -13UNC× 24</text>
</svg>
</body></html>
